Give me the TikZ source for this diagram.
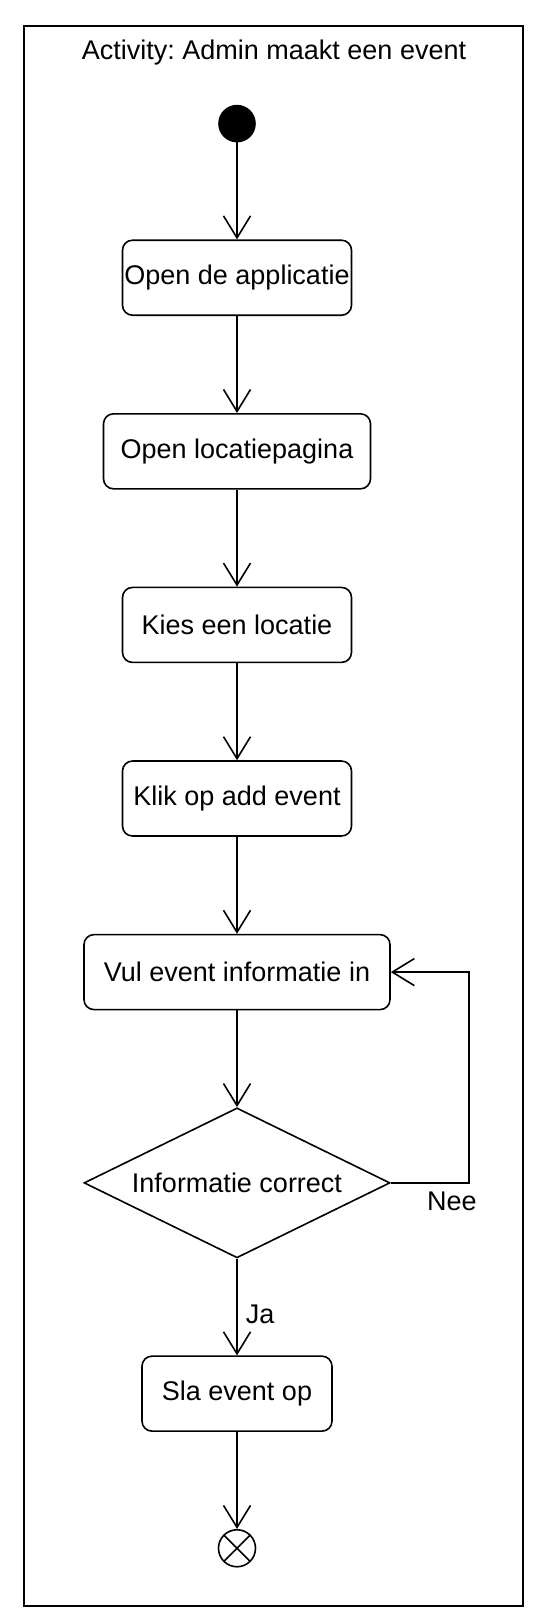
\documentclass[tikz,border=0pt]{standalone}
\usepackage{fontspec}
\setmainfont{Liberation Sans}
\usetikzlibrary{shapes.geometric,arrows.meta}
\frenchspacing

\begin{document}
\begin{tikzpicture}[thick,font=\fontsize{13.5pt}{16pt}\selectfont,
    >={Straight Barb[length=11pt,width=13.5pt]}]
    % `action' is used for the rounded activity boxes.
    % `decision' is the diamond, `startdot' and `enddot' begin and end.
    \tikzstyle{action} = [draw,rounded corners=5pt,minimum width=114.5pt,minimum height=37.5pt,inner sep=0pt]
    \tikzstyle{decision} = [draw,shape=diamond,aspect=2,minimum width=153pt,minimum height=75pt,inner sep=0pt]
    \tikzstyle{startdot} = [draw,fill,shape=circle,minimum size=18pt,inner sep=0pt]
    \tikzstyle{crossx} =[path picture={
\draw[thick,black](path picture bounding box.north west) -- (path picture bounding box.south east) (path picture bounding box.south west) -- (path picture bounding box.north east);
}],
    \tikzstyle{enddot} = [draw,fill=white,circle,crossx,minimum size=18.5pt,inner sep=0pt]
    %
    \useasboundingbox (0,0) rectangle (275pt,-810.5pt);
    \draw (12pt,-13pt) rectangle (261.5pt,-803pt);
    \node[anchor=base] (title) at (137pt,-30pt) {Activity: Admin maakt een event};
    %
    \matrix[row sep=48.5pt, matrix anchor=north, inner sep=0pt] (flow) at (118.5pt,-52pt) {
      \node[startdot] (begin) {}; \\
      \node[action] (app) {Open de applicatie}; \\
      \node[action,minimum width=133.5pt] (locpage) {Open locatiepagina}; \\
      \node[action] (loc) {Kies een locatie}; \\
      \node[action] (add) {Klik op add event}; \\
      \node[action,minimum width=153pt] (info) {Vul event informatie in}; \\
      \node[decision] (check) {Informatie correct}; \\
      \node[action,minimum width=95pt] (save) {Sla event op}; \\
      \node[enddot] (end) {}; \\
    };
    \coordinate (loop) at (234.5pt,0);
    %
    \draw[->] (begin) -- (app);
    \draw[->] (app) -- (locpage);
    \draw[->] (locpage) -- (loc);
    \draw[->] (loc) -- (add);
    \draw[->] (add) -- (info);
    \draw[->] (info) -- (check);
    \draw[->] (check) -- node[pos=0.58,right=4pt,inner sep=0pt] (ja) {Ja} (save);
    \draw[->] (save) -- (end);
    % Draw the way back when the information is not correct.
    \draw[->] (check.east) -| node[pos=0.5,below=4pt,inner sep=0pt,xshift=-8.5pt] (nee) {Nee}
      (loop |- info.east) -- (info.east);
\end{tikzpicture}
\end{document}
